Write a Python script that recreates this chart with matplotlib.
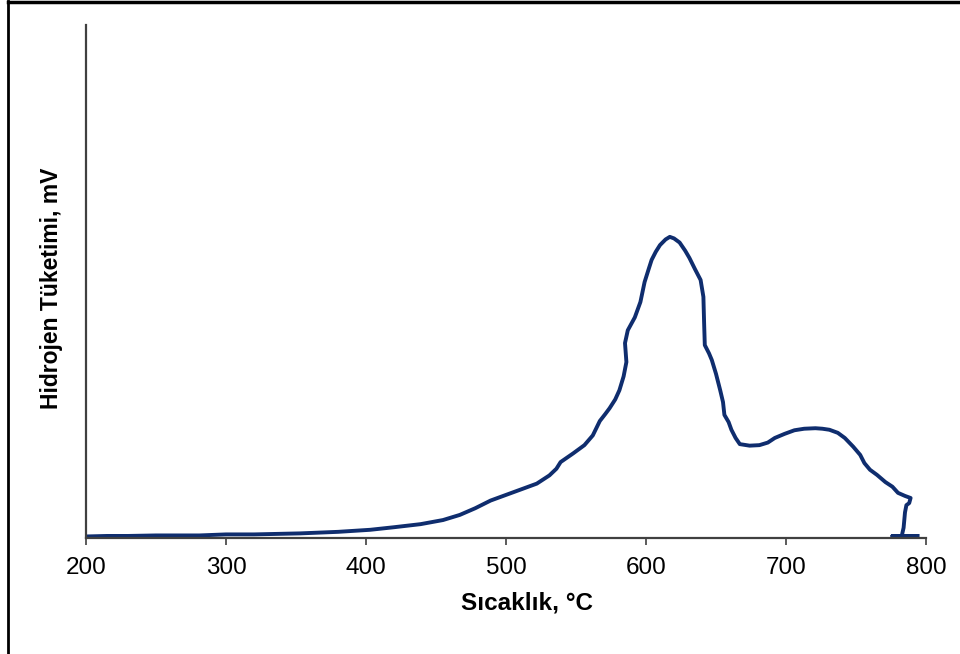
import numpy as np
import matplotlib
matplotlib.use('Agg')
import matplotlib.pyplot as plt
from matplotlib.lines import Line2D

plt.rcParams['font.family'] = ['Liberation Sans', 'DejaVu Sans']

# ---- TPR curve (temperature in C, signal in arbitrary mV) ----
temp = [200, 215, 230, 250, 281, 300, 320, 353, 380, 403, 420, 439, 455, 467, 478,
        489, 500, 510, 522, 531, 536, 539, 548, 556, 562, 567, 571, 574, 578, 581,
        584, 586, 585, 587, 592, 596, 599, 602, 604, 607, 610, 614, 617, 620, 624,
        628, 631, 635, 639, 641, 641.5, 642, 645, 647, 650, 653, 655, 656, 659, 661,
        664, 667, 674, 681, 687, 692, 699, 706, 713, 721, 726, 731, 737, 742, 748,
        753, 756, 760, 765, 771, 776, 780, 785, 789, 788, 786, 785, 784.5, 784, 783,
        783, 776, 794]
sig = [0.3, 0.4, 0.4, 0.5, 0.5, 0.7, 0.7, 0.9, 1.2, 1.6, 2.1, 2.7, 3.5, 4.5, 5.8,
       7.3, 8.4, 9.4, 10.6, 12.2, 13.5, 14.8, 16.5, 18.1, 20.0, 22.8, 24.2, 25.3, 27.0, 28.8,
       31.5, 34.3, 38.0, 40.5, 43.0, 46.0, 49.9, 52.5, 54.2, 55.8, 57.1, 58.2, 58.7, 58.4, 57.6,
       56.0, 54.6, 52.4, 50.3, 47.0, 42.0, 37.6, 36.0, 34.7, 32.0, 28.8, 26.5, 24.0, 22.6, 21.1,
       19.5, 18.3, 18.0, 18.1, 18.6, 19.5, 20.3, 21.0, 21.3, 21.4, 21.3, 21.1, 20.5, 19.5, 17.8,
       16.2, 14.6, 13.3, 12.3, 10.9, 10.0, 8.8, 8.2, 7.8, 6.8, 6.4, 5.0, 3.5, 2.0, 0.8,
       0.4, 0.4, 0.4]

xticks = [200, 300, 400, 500, 600, 700, 800]

fig = plt.figure(figsize=(9.6, 6.54), dpi=100)
ax = fig.add_axes([86/960, 1 - 538/654, 840/960, 513/654])

ax.plot(temp, sig, color='#0f2d6e', lw=2.8, solid_joinstyle='round')

ax.set_xlim(200, 800)
ax.set_ylim(0, 100)
ax.set_xticks(xticks)
ax.set_yticks([])
ax.tick_params(axis='x', direction='out', length=5, width=1.2, color='#404040',
               labelsize=17.5, pad=9)

for s in ['top', 'right']:
    ax.spines[s].set_visible(False)
for s in ['left', 'bottom']:
    ax.spines[s].set_color('#404040')
    ax.spines[s].set_linewidth(1.6)

ax.set_xlabel('Sıcaklık, °C', fontsize=17.5, fontweight='bold')
ax.xaxis.set_label_coords((527 - 86) / 840, -0.105)
ax.set_ylabel('Hidrojen Tüketimi, mV', fontsize=16.5, fontweight='bold')
ax.yaxis.set_label_coords(-0.027, 0.487)

# outer frame (left and top edge only visible)
fig.add_artist(Line2D([8/960, 8/960], [0, 1 - 1/654], transform=fig.transFigure,
                      color='black', lw=2))
fig.add_artist(Line2D([8/960, 1], [1 - 1.5/654, 1 - 1.5/654], transform=fig.transFigure,
                      color='black', lw=2.5))

fig.savefig('out.png', dpi=100)
